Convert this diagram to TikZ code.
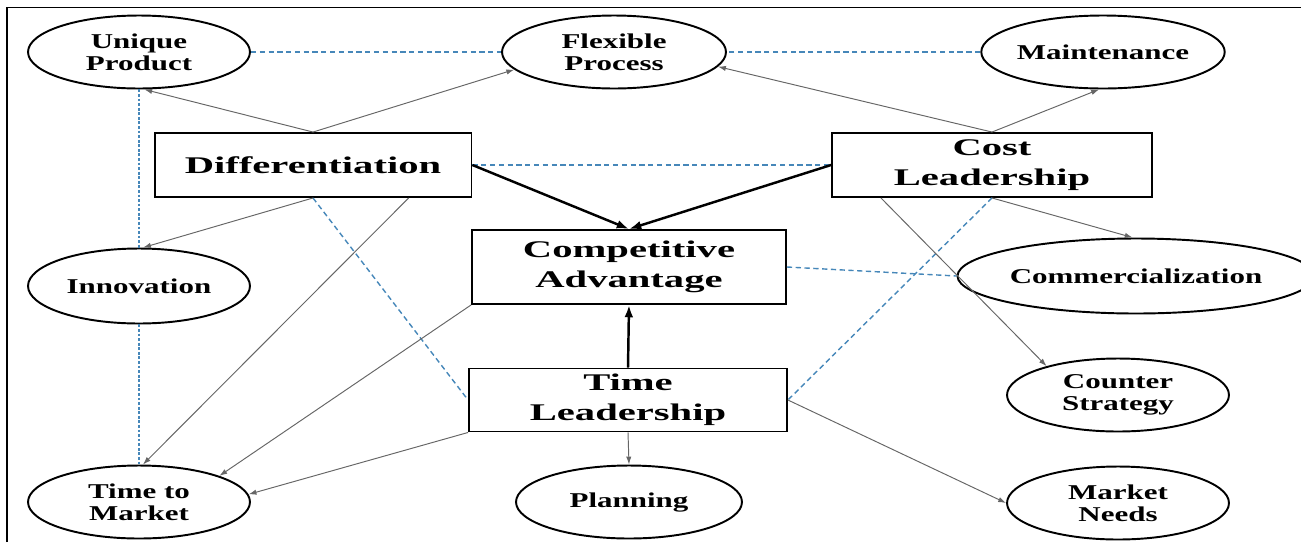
\documentclass[tikz,border=0pt]{standalone}
\usepackage{fontspec}
\setmainfont{Liberation Serif}
\newfontfamily\boxfont[FakeStretch=1.7]{Liberation Serif}
\newfontfamily\ovalfont[FakeStretch=1.47]{Liberation Serif}
\usetikzlibrary{shapes,arrows}
\usetikzlibrary{calc}
\usetikzlibrary{arrows,arrows.meta}
\definecolor{linkblue}{RGB}{70,135,185}

\begin{document}
\begin{tikzpicture}[%
		x=0.02cm, y=-0.02cm,
		>={Latex[length=4.5pt,width=3pt]},
		box/.style={rectangle, draw, line width=1.1pt, inner sep=0pt, align=center,
			font=\boxfont\bfseries\fontsize{13.6}{17}\selectfont},
		oval/.style={ellipse, draw, line width=1.1pt, inner sep=0pt, align=center,
			minimum width=4.44cm, minimum height=1.46cm,
			font=\ovalfont\bfseries\fontsize{12}{12.5}\selectfont},
		feed/.style={line width=0.55pt, black!60, ->},
		mainfeed/.style={line width=1.4pt, black, -{Latex[length=7pt,width=5pt]}},
		link/.style={line width=0.8pt, linkblue, dash pattern=on 3pt off 2pt},
		chain/.style={line width=1pt, linkblue, dash pattern=on 1.6pt off 1pt}
		]
		% (1301px,542px)
		\useasboundingbox (0,0) rectangle (1301,542);
		\draw[line width=1pt] (7,542) |- (1301,7.5);
		%%%%%%%%%%%%%%%
		%    NODES    %
		%%%%%%%%%%%%%%%
		% top row
		\node[oval] (up) at (139,52) {Unique\\Product};
		\node[oval, minimum width=4.48cm] (fp) at (614,52) {Flexible\\Process};
		\node[oval] (mt) at (1103,52) {Maintenance};
		
		% strategies
		\node[box, minimum width=6.34cm, minimum height=1.28cm] (diff) at (313,165) {Differentiation};
		\node[box, minimum width=6.4cm, minimum height=1.28cm] (cost) at (992,165) {Cost\\Leadership};
		\node[box, minimum width=6.28cm, minimum height=1.48cm] (ca) at (629,267) {Competitive\\Advantage};
		\node[box, minimum width=6.36cm, minimum height=1.26cm] (tl) at (628,400) {Time\\Leadership};
		
		% middle
		\node[oval, minimum height=1.5cm] (inno) at (139,286) {Innovation};
		\node[oval, minimum width=6.36cm, minimum height=1.5cm] (com) at (1136,276) {Commercialization};
		\node[oval] (cs) at (1118,395) {Counter\\Strategy};
		
		% bottom row
		\node[oval] (ttm) at (139,502) {Time to\\Market};
		\node[oval, minimum width=4.52cm] (plan) at (629,502) {Planning};
		\node[oval] (mn) at (1118,503) {Market\\Needs};
		
		%%%%%%%%%%%%%%%
		% CONNECTIONS %
		%%%%%%%%%%%%%%%
		
		% blue links
		\path[chain]
		(up.south) edge (inno.north)
		(inno.south) edge (ttm.north);
		
		\path[link]
		(up.east) edge (fp.west)
		(mt.west) edge (fp.east)
		(diff.east) edge (cost.west)
		(ca.east) edge (com.west)
		(diff.south) edge (tl.west)
		(cost.south) edge (tl.east);
		
		% Differentiation
		\path[feed]
		(diff.north) edge (up.-82)
		(diff.north) edge (fp.190)
		(diff.south) edge (inno.84)
		($(diff.south)!0.6!(diff.south east)$) edge (ttm.84);
		
		% Cost Leadership
		\path[feed]
		(cost.north) edge (fp.-8)
		(cost.north) edge (mt.-96)
		(cost.south) edge (com.95)
		($(cost.south west)!0.31!(cost.south)$) edge (cs.158);
		
		% Time Leadership
		\path[feed]
		(tl.south) edge (plan.north)
		(tl.south west) edge (ttm.4)
		(ca.south west) edge (ttm.18)
		(tl.east) edge (mn.west);
		
		% into Competitive Advantage
		\path[mainfeed]
		(diff.east) edge (ca.north)
		(cost.west) edge (ca.north)
		(tl.north) edge (ca.south);
		
	\end{tikzpicture}
\end{document}
